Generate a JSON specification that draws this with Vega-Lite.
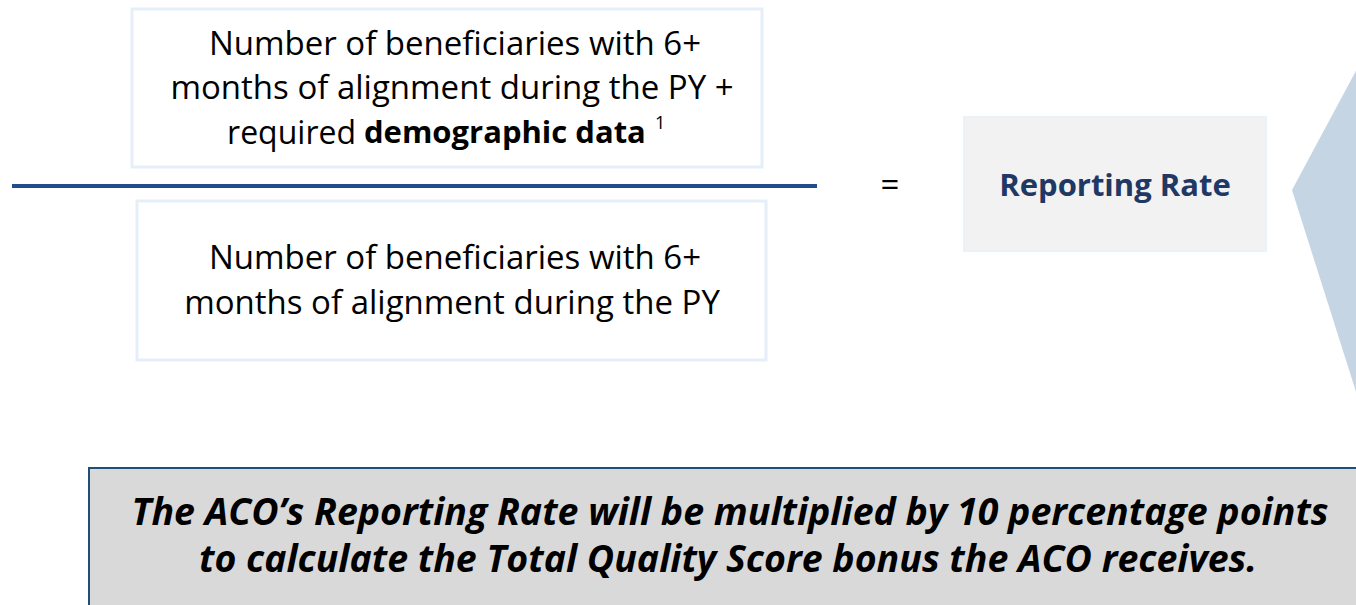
{
  "$schema": "https://vega.github.io/schema/vega-lite/v6.json",
  "width": 1356,
  "height": 605,
  "padding": 0,
  "autosize": {"type": "none"},
  "background": "white",
  "config": {"view": {"stroke": null}, "font": "Open Sans"},
  "encoding": {
    "x": {"type": "quantitative", "scale": {"domain": [0, 1356]}, "axis": null},
    "y": {"type": "quantitative", "scale": {"domain": [0, 605], "reverse": true}, "axis": null}
  },
  "layer": [
    {
      "data": {"values": [
        {"name": "numerator", "x0": 132, "x1": 762, "y0": 9, "y1": 167},
        {"name": "denominator", "x0": 137, "x1": 766, "y0": 201, "y1": 360}
      ]},
      "mark": {"type": "rect", "fill": "white", "stroke": "#e6eff9", "strokeWidth": 3},
      "encoding": {"x": {"field": "x0"}, "x2": {"field": "x1"}, "y": {"field": "y0"}, "y2": {"field": "y1"}}
    },
    {
      "data": {"values": [{"name": "rate", "x0": 964, "x1": 1266, "y0": 117, "y1": 251}]},
      "mark": {"type": "rect", "fill": "#f2f2f2", "stroke": "#e9f1f9", "strokeWidth": 2},
      "encoding": {"x": {"field": "x0"}, "x2": {"field": "x1"}, "y": {"field": "y0"}, "y2": {"field": "y1"}}
    },
    {
      "data": {"values": [{"x0": 12, "x1": 817, "y": 186}]},
      "mark": {"type": "rule", "stroke": "#1f4e89", "strokeWidth": 4},
      "encoding": {"x": {"field": "x0"}, "x2": {"field": "x1"}, "y": {"field": "y"}}
    },
    {
      "data": {"values": [
        {"x": 1292, "ytop": 190, "ybot": 190},
        {"x": 1357, "ytop": 69, "ybot": 395}
      ]},
      "mark": {"type": "area", "fill": "#c5d5e4", "orient": "vertical"},
      "encoding": {"x": {"field": "x"}, "y": {"field": "ytop"}, "y2": {"field": "ybot"}}
    },
    {
      "data": {"values": [{"x0": 89, "x1": 1360, "y0": 468, "y1": 610}]},
      "mark": {"type": "rect", "fill": "#d9d9d9", "stroke": "#1f4e79", "strokeWidth": 2},
      "encoding": {"x": {"field": "x0"}, "x2": {"field": "x1"}, "y": {"field": "y0"}, "y2": {"field": "y1"}}
    },
    {
      "data": {"values": [
        {"label": "Number of beneficiaries with 6+", "x": 455, "y": 45},
        {"label": "months of alignment during the PY +", "x": 452, "y": 89},
        {"label": "Number of beneficiaries with 6+", "x": 455, "y": 259},
        {"label": "months of alignment during the PY", "x": 452, "y": 304},
        {"label": "=", "x": 890, "y": 186}
      ]},
      "mark": {"type": "text", "fontSize": 33, "color": "black", "align": "center", "baseline": "middle"},
      "encoding": {"x": {"field": "x"}, "y": {"field": "y"}, "text": {"field": "label"}}
    },
    {
      "data": {"values": [{"label": "required", "x": 356, "y": 134}]},
      "mark": {"type": "text", "fontSize": 32, "color": "black", "align": "right", "baseline": "middle"},
      "encoding": {"x": {"field": "x"}, "y": {"field": "y"}, "text": {"field": "label"}}
    },
    {
      "data": {"values": [{"label": "demographic data", "x": 364, "y": 134}]},
      "mark": {"type": "text", "fontSize": 31, "fontWeight": "bold", "color": "black", "align": "left", "baseline": "middle"},
      "encoding": {"x": {"field": "x"}, "y": {"field": "y"}, "text": {"field": "label"}}
    },
    {
      "data": {"values": [{"label": "1", "x": 655, "y": 124}]},
      "mark": {"type": "text", "fontSize": 18, "color": "black", "align": "left", "baseline": "middle"},
      "encoding": {"x": {"field": "x"}, "y": {"field": "y"}, "text": {"field": "label"}}
    },
    {
      "data": {"values": [{"label": "Reporting Rate", "x": 1115, "y": 187}]},
      "mark": {"type": "text", "fontSize": 31, "fontWeight": "bold", "color": "#1f3864", "align": "center", "baseline": "middle"},
      "encoding": {"x": {"field": "x"}, "y": {"field": "y"}, "text": {"field": "label"}}
    },
    {
      "data": {"values": [
        {"label": "The ACO’s Reporting Rate will be multiplied by 10 percentage points", "x": 730, "y": 514},
        {"label": "to calculate the Total Quality Score bonus the ACO receives.", "x": 728, "y": 561}
      ]},
      "mark": {"type": "text", "fontSize": 37.5, "fontWeight": "bold", "fontStyle": "italic", "color": "black", "align": "center", "baseline": "middle"},
      "encoding": {"x": {"field": "x"}, "y": {"field": "y"}, "text": {"field": "label"}}
    }
  ]
}
